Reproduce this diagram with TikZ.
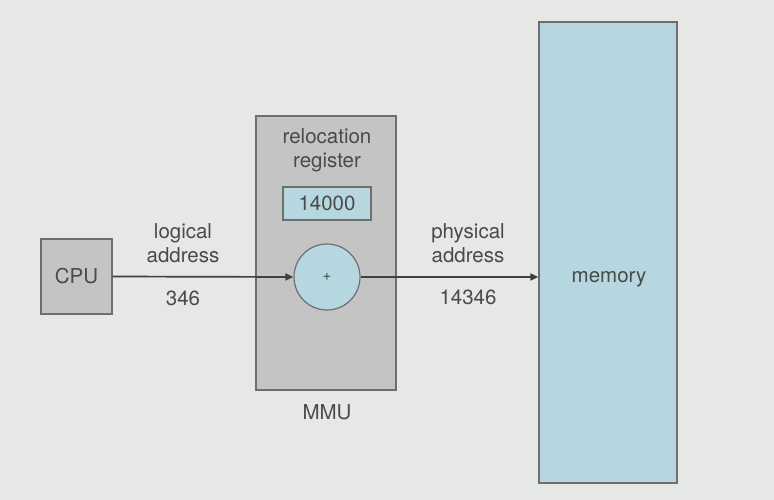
\documentclass[tikz,border=0pt]{standalone}
\usepackage{fontspec}
\setmainfont{TeX Gyre Heros}
\usetikzlibrary{arrows.meta}
\definecolor{bg}{HTML}{E6E8E5}
\definecolor{boxgray}{HTML}{C4C4C4}
\definecolor{edge}{HTML}{6E6E6E}
\definecolor{lblue}{HTML}{B7D7E0}
\definecolor{txt}{HTML}{4A4A4A}
\tikzset{
  every node/.style={font=\fontsize{20.5}{24}\selectfont, text=txt},
  graybox/.style={draw=edge, line width=1.2pt, fill=boxgray, inner sep=0pt},
  bluebox/.style={draw=edge, line width=1.2pt, fill=lblue, inner sep=0pt},
  conn/.style={draw=black!75, line width=1.7pt, -{Triangle[length=8pt,width=7pt]}},
  lbl/.style={align=center, inner sep=0pt}
}
\begin{document}
\begin{tikzpicture}[x=1pt,y=-1pt]
\fill[bg] (0,0) rectangle (774,500);
\useasboundingbox (0,0) rectangle (774,500);
% CPU
\node[graybox, minimum width=71pt, minimum height=75pt] (cpu) at (76.5,276.5) {CPU};
% MMU
\node[graybox, minimum width=140pt, minimum height=274pt] (mmu) at (326,253) {};
\node[lbl] (reloc) at (327,150) {relocation\\register};
\node[bluebox, minimum width=88pt, minimum height=33pt] (reg) at (327,203.5) {14000};
\node[bluebox, circle, minimum size=66pt] (add) at (327,277) {\fontsize{15}{15}\selectfont +};
\node[lbl] (mmulbl) at (327,412) {MMU};
% memory
\node[bluebox, minimum width=138pt, minimum height=461pt] (mem) at (608,252.5) {};
\node[lbl] (memlbl) at (609,279) {memory};
% connectors
\coordinate (memin) at (mem.west |- add.east);
\draw[conn] (cpu.east) -- (add.west);
\draw[conn] (add.east) -- (memin);
% labels
\node[lbl] (la) at (183,243) {logical\\address};
\node[lbl] (lv) at (183,298) {346};
\node[lbl] (pa) at (468,243) {physical\\address};
\node[lbl] (pv) at (468,297) {14346};
\end{tikzpicture}
\end{document}
